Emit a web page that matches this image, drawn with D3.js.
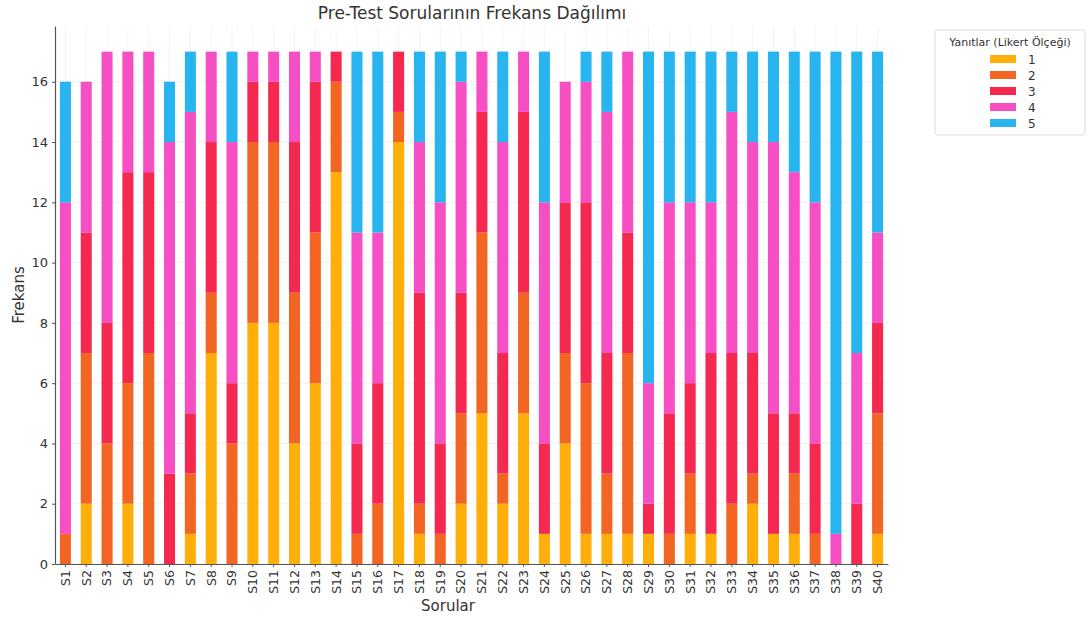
<!DOCTYPE html>
<html>
  <head>
    <meta charset="utf-8">
    <script src="https://cdn.jsdelivr.net/npm/d3@7"></script>
    <style>
      body { margin: 0; background: #fff; }
      text { font-family: "DejaVu Sans", sans-serif; fill: #333; }
      .axis path, .axis line { stroke: #555; }
    </style>
  </head>
  <body>
    <script>
      WIDTH = 1088
      HEIGHT = 618

      // questions S1..S40
      var questions = ["S1","S2","S3","S4","S5","S6","S7","S8","S9","S10",
        "S11","S12","S13","S14","S15","S16","S17","S18","S19","S20",
        "S21","S22","S23","S24","S25","S26","S27","S28","S29","S30",
        "S31","S32","S33","S34","S35","S36","S37","S38","S39","S40"]

      // answer counts per likert level, one array each
      var answers1 = [0,2,0,2,0,0,1,7,0,8, 8,4,6,13,0,0,14,1,0,2, 5,2,5,1,4,1,1,1,1,0, 1,1,0,2,1,1,0,0,0,1]
      var answers2 = [1,5,4,4,7,0,2,2,4,6, 6,5,5,3,1,2,1,1,1,3, 6,1,4,0,3,5,2,6,0,1, 2,0,2,1,0,2,1,0,0,4]
      var answers3 = [0,4,4,7,6,3,2,5,2,2, 2,5,5,1,3,4,2,7,3,4, 4,4,6,3,5,6,4,4,1,4, 3,6,5,4,4,2,3,0,2,3]
      var answers4 = [11,5,9,4,4,11,10,3,8,1, 1,3,1,0,7,5,0,5,8,7, 2,7,2,8,4,4,8,6,4,7, 6,5,8,7,9,8,8,1,5,3]
      var answers5 = [4,0,0,0,0,2,2,0,3,0, 0,0,0,0,6,6,0,3,5,1, 0,3,0,5,0,1,2,0,11,5, 5,5,2,3,3,4,5,16,10,6]

      var levels = ["1", "2", "3", "4", "5"]
      var colors = ["#ffae0a", "#f26522", "#f5294f", "#f64fc4", "#28b4ee"]
      var yTicks = [0, 2, 4, 6, 8, 10, 12, 14, 16]

      var rows = questions.map(function(q, i) {
        return {q: q, "1": answers1[i], "2": answers2[i], "3": answers3[i], "4": answers4[i], "5": answers5[i]}
      })

      var svg = d3.select("body").append("svg")
        .attr("width", WIDTH)
        .attr("height", HEIGHT)

      // plot area edges
      var PLEFT = 55, PRIGHT = 888, PTOP = 26, PBOTTOM = 564

      var x = d3.scaleBand().domain(questions).range([PLEFT, PRIGHT])
        .paddingInner(0.47).paddingOuter(0.235)
      var y = d3.scaleLinear().domain([0, 17.85]).range([PBOTTOM, PTOP])
      var color = d3.scaleOrdinal().domain(levels).range(colors)

      // faint grid
      svg.append("g").selectAll("line").data(yTicks).enter().append("line")
        .attr("x1", PLEFT).attr("x2", PRIGHT)
        .attr("y1", function(d) { return y(d) }).attr("y2", function(d) { return y(d) })
        .attr("stroke", "#eee").attr("stroke-width", 0.8)
      svg.append("g").selectAll("line").data(questions).enter().append("line")
        .attr("x1", function(d) { return x(d) + x.bandwidth() / 2 })
        .attr("x2", function(d) { return x(d) + x.bandwidth() / 2 })
        .attr("y1", PTOP).attr("y2", PBOTTOM)
        .attr("stroke", "#f0f0f0").attr("stroke-width", 0.8)

      // stacked bars
      var series = d3.stack().keys(levels)(rows)
      svg.append("g").selectAll("g").data(series).enter().append("g")
        .attr("fill", function(d) { return color(d.key) })
        .selectAll("rect").data(function(d) { return d }).enter().append("rect")
        .attr("x", function(d) { return x(d.data.q) })
        .attr("width", x.bandwidth())
        .attr("y", function(d) { return y(d[1]) })
        .attr("height", function(d) { return y(d[0]) - y(d[1]) })

      // axes
      var xAxis = svg.append("g").attr("class", "axis")
        .attr("transform", "translate(0," + PBOTTOM + ")")
        .call(d3.axisBottom(x).tickSize(3).tickSizeOuter(0))
      xAxis.selectAll("text")
        .attr("transform", "rotate(-90)")
        .attr("text-anchor", "end")
        .attr("dy", "0.35em")
        .attr("x", -6).attr("y", 0)
        .style("font-size", "12.5px")
      xAxis.select(".domain").attr("stroke-width", 1.2)

      var yAxis = svg.append("g").attr("class", "axis")
        .attr("transform", "translate(" + PLEFT + ",0)")
        .call(d3.axisLeft(y).tickValues(yTicks).tickSize(3).tickSizeOuter(0))
      yAxis.selectAll("text").style("font-size", "13px").attr("x", -7)
      yAxis.select(".domain").attr("stroke-width", 1.2)

      // labels
      svg.append("text").attr("x", 472).attr("y", 19)
        .attr("text-anchor", "middle").style("font-size", "17px")
        .text("Pre-Test Sorularının Frekans Dağılımı")
      svg.append("text").attr("x", 448).attr("y", 611)
        .attr("text-anchor", "middle").style("font-size", "15px")
        .text("Sorular")
      svg.append("text").attr("transform", "translate(24,295) rotate(-90)")
        .attr("text-anchor", "middle").style("font-size", "15px")
        .text("Frekans")

      // legend
      var legend = svg.append("g").attr("transform", "translate(935,30)")
      legend.append("rect").attr("width", 150).attr("height", 105).attr("rx", 3)
        .attr("fill", "#fff").attr("stroke", "#ddd")
      legend.append("text").attr("x", 75).attr("y", 16)
        .attr("text-anchor", "middle").style("font-size", "11px")
        .text("Yanıtlar (Likert Ölçeği)")
      var items = legend.selectAll(".item").data(levels).enter().append("g")
        .attr("transform", function(d, i) { return "translate(0," + (29 + i * 16) + ")" })
      items.append("rect").attr("x", 55).attr("y", -4).attr("width", 26).attr("height", 8)
        .attr("fill", function(d) { return color(d) })
      items.append("text").attr("x", 93).attr("y", 4.5)
        .style("font-size", "12px").text(function(d) { return d })
    </script>
  </body>
</html>
